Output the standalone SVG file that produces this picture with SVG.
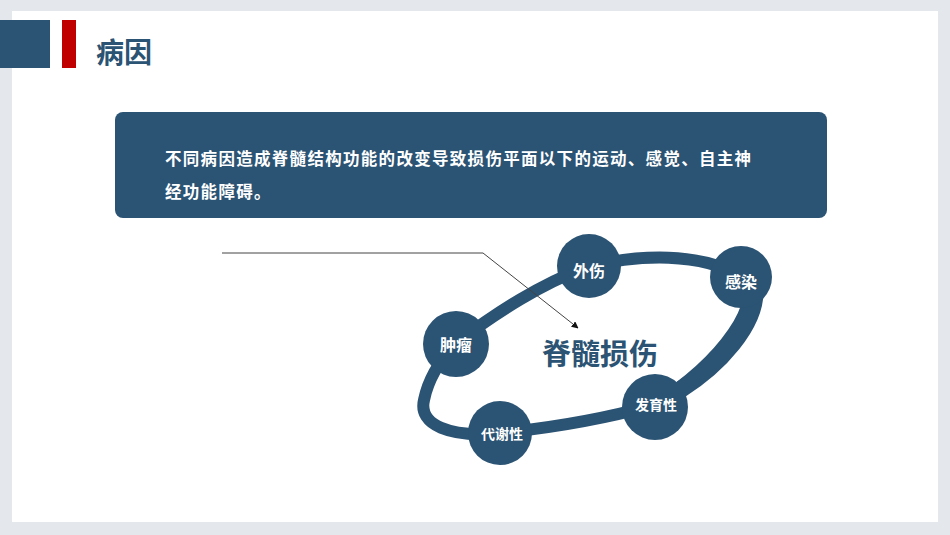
<svg xmlns="http://www.w3.org/2000/svg" width="950" height="535" viewBox="0 0 950 535">
<defs>
<style>
.cjk{font-family:"Noto Sans CJK SC","Noto Sans",sans-serif;font-weight:bold}
.node circle{fill:#2b5373}
.node text{fill:#ffffff;text-anchor:middle;dominant-baseline:central}
</style>
<marker id="arr" viewBox="0 0 10 10" refX="9" refY="5" markerWidth="7" markerHeight="7" orient="auto-start-reverse" markerUnits="userSpaceOnUse">
<path d="M0,0 L10,5 L0,10 z" fill="#111"/>
</marker>
</defs>
<rect x="0" y="0" width="950" height="535" fill="#e4e7ec"/>
<rect x="12" y="11" width="926" height="511" fill="#ffffff"/>
<g id="header">
<rect x="0" y="20" width="50" height="48" fill="#2b5373"/>
<rect x="62" y="20" width="14" height="48" fill="#c00000"/>
<text class="cjk" x="96" y="63" font-size="28" fill="#2b5373">病因</text>
</g>
<g id="desc">
<rect x="115" y="112" width="712" height="106" rx="8" fill="#2b5373"/>
<text class="cjk" font-size="16.5" fill="#ffffff" letter-spacing="1.3"><tspan x="165" y="165">不同病因造成脊髓结构功能的改变导致损伤平面以下的运动、感觉、自主神</tspan><tspan x="165" y="198">经功能障碍。</tspan></text>
</g>
<g id="connectors" fill="none">
<path d="M456,343 C500,310 540,285 586,267 C640,254 700,252 743,277 C765,300 725,360 654,405 C600,420 550,428 500,433 C450,438 418,425 424,400 C428,380 440,360 456,343 Z" stroke="#2b5373" stroke-width="12"/>
<path d="M755,292 C755,325 720,365 680,390" stroke="#2b5373" stroke-width="17" stroke-linecap="round"/>
<path d="M222,253 L483,253 L578,328" stroke="#444" stroke-width="1" marker-end="url(#arr)"/>
</g>
<text id="center" class="cjk" x="600" y="352" font-size="29" fill="#2b5373" text-anchor="middle" dominant-baseline="central">脊髓损伤</text>
<g id="n1" class="node cjk"><circle cx="589" cy="266" r="32"/><text x="589" y="270" font-size="16">外伤</text></g>
<g id="n2" class="node cjk"><circle cx="741" cy="277" r="31"/><text x="741" y="281" font-size="16">感染</text></g>
<g id="n3" class="node cjk"><circle cx="456" cy="344" r="33"/><text x="456" y="344" font-size="16">肿瘤</text></g>
<g id="n4" class="node cjk"><circle cx="500" cy="433" r="32"/><text x="502" y="433" font-size="14">代谢性</text></g>
<g id="n5" class="node cjk"><circle cx="655" cy="407" r="33"/><text x="656" y="404" font-size="14">发育性</text></g>
</svg>
